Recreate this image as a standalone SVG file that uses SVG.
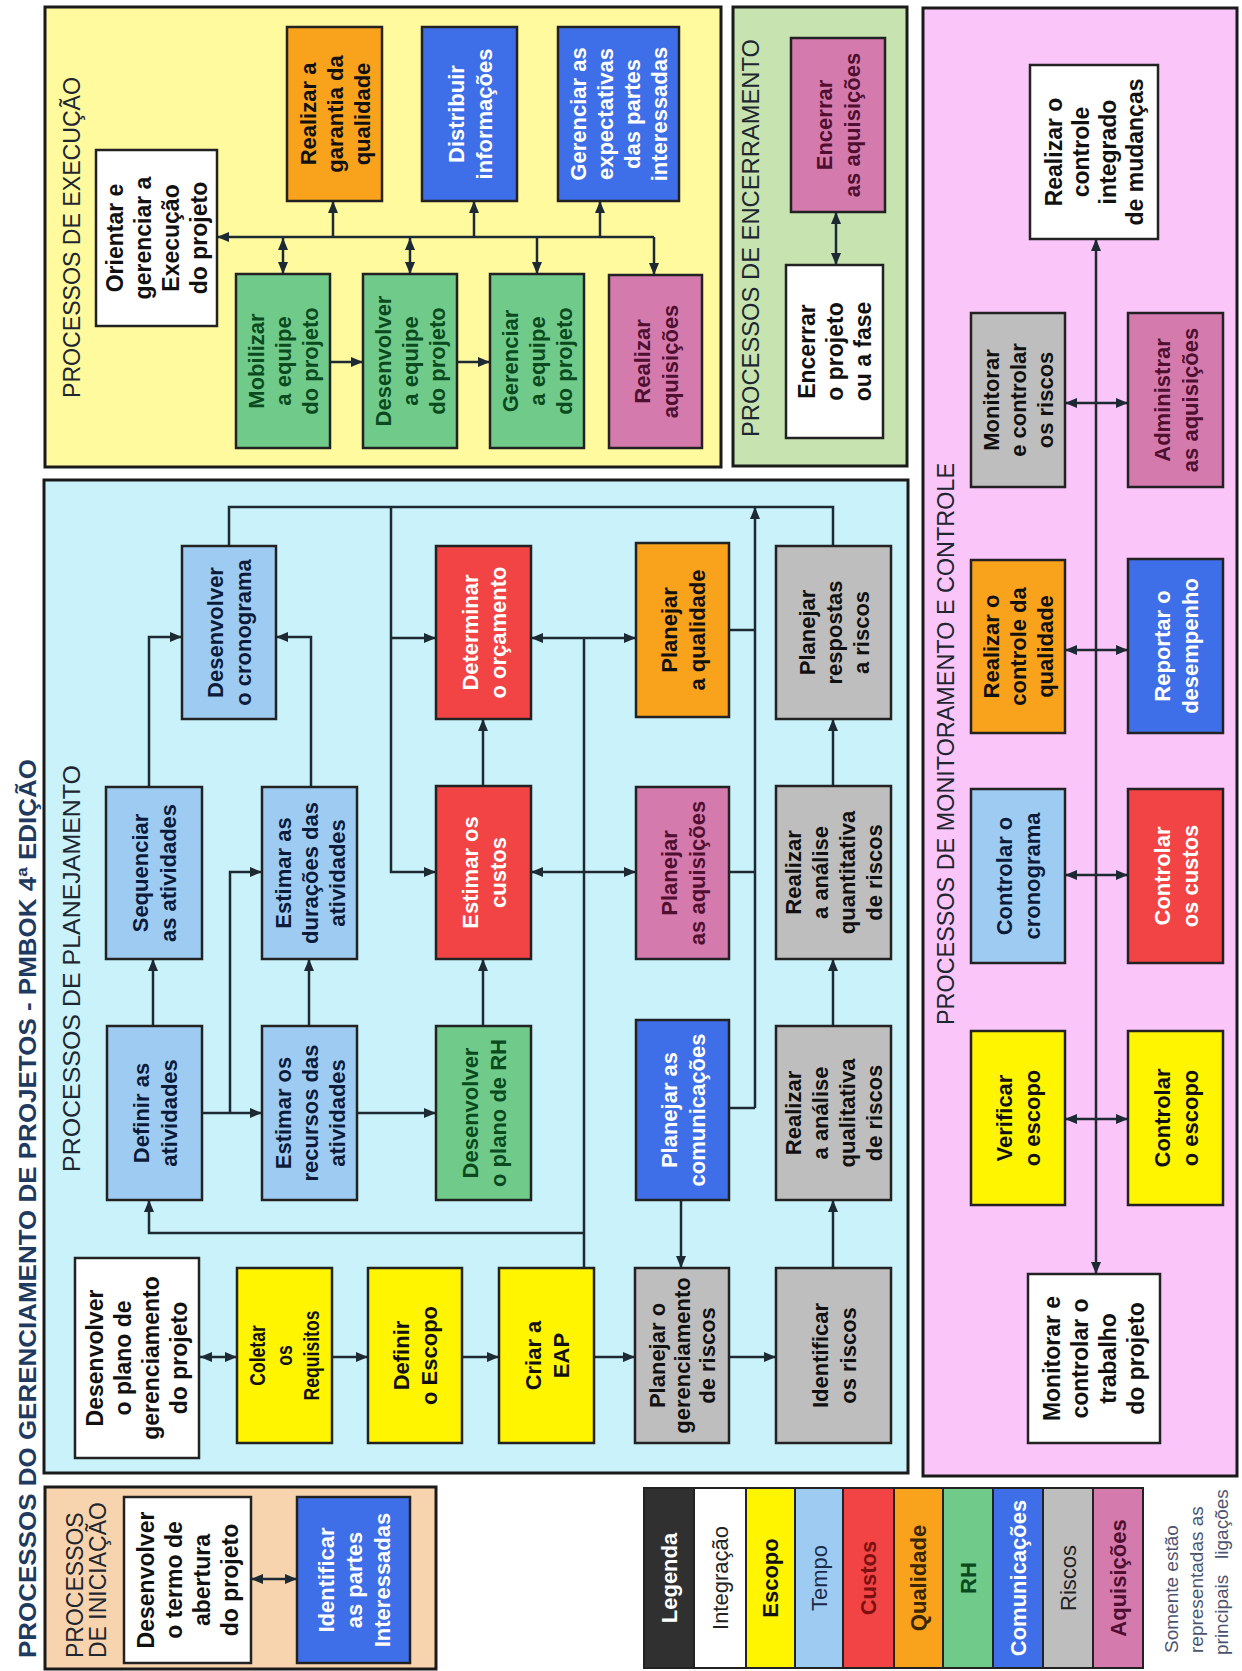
<svg xmlns="http://www.w3.org/2000/svg" width="1242" height="1671" viewBox="0 0 1242 1671">
<style>
.panel{stroke:#1a1a1a;stroke-width:3}
.node{stroke:#222;stroke-width:2.5}
.integ{fill:#ffffff}.esc{fill:#fff500}.tem{fill:#9ecbf2}.cus{fill:#f24444}.qua{fill:#f9a21b}.rh{fill:#70cb8a}.com{fill:#3f6fe8}.ris{fill:#bebebe}.aqu{fill:#d47aac}
text{font-family:"Liberation Sans",Arial,Helvetica,sans-serif;dominant-baseline:central}
.t{font-weight:bold;font-size:22px;text-anchor:middle}
.tw{font-weight:bold;font-size:23px;text-anchor:middle;fill:#111}
.dk{fill:#111}.wt{fill:#ffffff}.nv{fill:#0d1b3a}.gr{fill:#0b4a1e}.mr{fill:#4f0f30}
.title{font-size:23px;fill:#1e2630}
.conn path{fill:none;stroke:#1d2a33;stroke-width:2.5}
</style>
<defs>
<marker id="ae" viewBox="0 0 12 10" refX="12" refY="5" markerWidth="12" markerHeight="10" markerUnits="userSpaceOnUse" orient="auto"><path d="M0,0 L12,5 L0,10 z" fill="#1d2a33"/></marker>
<marker id="as" viewBox="0 0 12 10" refX="12" refY="5" markerWidth="12" markerHeight="10" markerUnits="userSpaceOnUse" orient="auto-start-reverse"><path d="M0,0 L12,5 L0,10 z" fill="#1d2a33"/></marker>
</defs>
<rect width="1242" height="1671" fill="#ffffff"/>

<text id="main-title" font-weight="bold" font-size="24" fill="#1f3a60" textLength="899" lengthAdjust="spacingAndGlyphs" transform="translate(27,1658) rotate(-90)">PROCESSOS DO GERENCIAMENTO DE PROJETOS - PMBOK 4ª EDIÇÃO</text>

<!-- Panels -->
<g id="panel-execucao">
<rect class="panel" x="45" y="7" width="676" height="460" fill="#fffa9e"/>
<text class="title" textLength="321" lengthAdjust="spacingAndGlyphs" transform="translate(72,398) rotate(-90)">PROCESSOS DE EXECUÇÃO</text>
</g>
<g id="panel-encerramento">
<rect class="panel" x="733" y="7" width="174" height="459" fill="#c6e3b0"/>
<text class="title" textLength="398" lengthAdjust="spacingAndGlyphs" transform="translate(751,437) rotate(-90)">PROCESSOS DE ENCERRAMENTO</text>
</g>
<g id="panel-monitoramento">
<rect class="panel" x="923" y="8" width="314" height="1468" fill="#fac5f8"/>
<text class="title" textLength="562" lengthAdjust="spacingAndGlyphs" transform="translate(946,1025) rotate(-90)">PROCESSOS DE MONITORAMENTO E CONTROLE</text>
</g>
<g id="panel-planejamento">
<rect class="panel" x="44" y="480" width="864" height="993" fill="#c9f2fa"/>
<text class="title" textLength="407" lengthAdjust="spacingAndGlyphs" transform="translate(72,1172) rotate(-90)">PROCESSOS DE PLANEJAMENTO</text>
</g>
<g id="panel-iniciacao">
<rect class="panel" x="45" y="1487" width="391" height="182" fill="#f8d4ae"/>
<text class="title" transform="translate(75,1658) rotate(-90)">PROCESSOS</text>
<text class="title" transform="translate(98,1658) rotate(-90)">DE INICIAÇÃO</text>
</g>

<!-- Connectors -->
<g id="connectors" class="conn">
<path d="M654 237 H217" marker-end="url(#ae)"/>
<path d="M654 237 V275" marker-end="url(#ae)"/>
<path d="M537 237 V274" marker-end="url(#ae)"/>
<path d="M333 237 V201" marker-end="url(#ae)"/>
<path d="M474 237 V201" marker-end="url(#ae)"/>
<path d="M600 237 V201" marker-end="url(#ae)"/>
<path d="M283 238 V274" marker-start="url(#as)" marker-end="url(#ae)"/>
<path d="M410 238 V274" marker-start="url(#as)" marker-end="url(#ae)"/>
<path d="M330 362 H363" marker-end="url(#ae)"/>
<path d="M457 362 H490" marker-end="url(#ae)"/>
<path d="M836 212 V265" marker-start="url(#as)" marker-end="url(#ae)"/>
<path d="M1096 1274 V239" marker-start="url(#as)" marker-end="url(#ae)"/>
<path d="M1065 403 H1128" marker-start="url(#as)" marker-end="url(#ae)"/>
<path d="M1065 650 H1128" marker-start="url(#as)" marker-end="url(#ae)"/>
<path d="M1065 875 H1128" marker-start="url(#as)" marker-end="url(#ae)"/>
<path d="M1065 1119 H1128" marker-start="url(#as)" marker-end="url(#ae)"/>
<path d="M229 546 V507 H833 V546"/>
<path d="M391 507 V872 H436" marker-end="url(#ae)"/>
<path d="M391 638 H436" marker-end="url(#ae)"/>
<path d="M755 1108 V507" marker-end="url(#ae)"/>
<path d="M729 630 H755"/>
<path d="M729 872 H755"/>
<path d="M729 1108 H755"/>
<path d="M531 638 H636" marker-start="url(#as)" marker-end="url(#ae)"/>
<path d="M531 872 H636" marker-start="url(#as)" marker-end="url(#ae)"/>
<path d="M584 638 V1268"/>
<path d="M584 1233 H149 V1200" marker-end="url(#ae)"/>
<path d="M681 1200 V1268" marker-end="url(#ae)"/>
<path d="M149 787 V637 H182" marker-end="url(#ae)"/>
<path d="M311 787 V637 H276" marker-end="url(#ae)"/>
<path d="M153 1026 V959" marker-end="url(#ae)"/>
<path d="M202 1113 H262" marker-end="url(#ae)"/>
<path d="M230 1113 V872 H262" marker-end="url(#ae)"/>
<path d="M309 1026 V959" marker-end="url(#ae)"/>
<path d="M357 1113 H436" marker-end="url(#ae)"/>
<path d="M483 1026 V959" marker-end="url(#ae)"/>
<path d="M483 786 V719" marker-end="url(#ae)"/>
<path d="M833 1268 V1200" marker-end="url(#ae)"/>
<path d="M833 1026 V959" marker-end="url(#ae)"/>
<path d="M833 786 V719" marker-end="url(#ae)"/>
<path d="M200 1357 H237" marker-start="url(#as)" marker-end="url(#ae)"/>
<path d="M332 1357 H368" marker-end="url(#ae)"/>
<path d="M462 1357 H499" marker-end="url(#ae)"/>
<path d="M594 1357 H635" marker-end="url(#ae)"/>
<path d="M729 1357 H776" marker-end="url(#ae)"/>
<path d="M251 1579 H297" marker-start="url(#as)" marker-end="url(#ae)"/>
</g>

<!-- Execution nodes -->
<g id="exe-orientar"><rect class="node integ" x="96" y="150" width="121" height="176"/>
<text class="tw" transform="translate(156.5,238) rotate(-90)"><tspan x="0" y="-42">Orientar e</tspan><tspan x="0" y="-14">gerenciar a</tspan><tspan x="0" y="14">Execução</tspan><tspan x="0" y="42">do projeto</tspan></text></g>
<g id="exe-garantia"><rect class="node qua" x="287" y="27" width="95" height="174"/>
<text class="t dk" transform="translate(334.5,114) rotate(-90)"><tspan x="0" y="-27">Realizar a</tspan><tspan x="0" y="0">garantia da</tspan><tspan x="0" y="27">qualidade</tspan></text></g>
<g id="exe-distribuir"><rect class="node com" x="422" y="27" width="95" height="174"/>
<text class="t wt" transform="translate(469.5,114) rotate(-90)"><tspan x="0" y="-14">Distribuir</tspan><tspan x="0" y="14">informações</tspan></text></g>
<g id="exe-expectativas"><rect class="node com" x="558" y="27" width="121" height="174"/>
<text class="t wt" transform="translate(618.5,114) rotate(-90)"><tspan x="0" y="-40.5">Gerenciar as</tspan><tspan x="0" y="-13.5">expectativas</tspan><tspan x="0" y="13.5">das partes</tspan><tspan x="0" y="40.5">interessadas</tspan></text></g>
<g id="exe-mobilizar"><rect class="node rh" x="236" y="274" width="94" height="174"/>
<text class="t gr" transform="translate(283,361) rotate(-90)"><tspan x="0" y="-27">Mobilizar</tspan><tspan x="0" y="0">a equipe</tspan><tspan x="0" y="27">do projeto</tspan></text></g>
<g id="exe-desenvolver"><rect class="node rh" x="363" y="274" width="94" height="174"/>
<text class="t gr" transform="translate(410,361) rotate(-90)"><tspan x="0" y="-27">Desenvolver</tspan><tspan x="0" y="0">a equipe</tspan><tspan x="0" y="27">do projeto</tspan></text></g>
<g id="exe-gerenciar"><rect class="node rh" x="490" y="274" width="94" height="174"/>
<text class="t gr" transform="translate(537,361) rotate(-90)"><tspan x="0" y="-27">Gerenciar</tspan><tspan x="0" y="0">a equipe</tspan><tspan x="0" y="27">do projeto</tspan></text></g>
<g id="exe-aquisicoes"><rect class="node aqu" x="609" y="275" width="93" height="173"/>
<text class="t mr" transform="translate(655.5,361.5) rotate(-90)"><tspan x="0" y="-14">Realizar</tspan><tspan x="0" y="14">aquisições</tspan></text></g>

<!-- Closing nodes -->
<g id="enc-aquisicoes"><rect class="node aqu" x="791" y="38" width="94" height="174"/>
<text class="t mr" transform="translate(838,125) rotate(-90)"><tspan x="0" y="-14">Encerrar</tspan><tspan x="0" y="14">as aquisições</tspan></text></g>
<g id="enc-projeto"><rect class="node integ" x="786" y="265" width="97" height="173"/>
<text class="tw" transform="translate(834.5,351.5) rotate(-90)"><tspan x="0" y="-28">Encerrar</tspan><tspan x="0" y="0">o projeto</tspan><tspan x="0" y="28">ou a fase</tspan></text></g>

<!-- Monitoring nodes -->
<g id="mon-integrado"><rect class="node integ" x="1030" y="65" width="128" height="174"/>
<text class="tw" transform="translate(1094,152) rotate(-90)"><tspan x="0" y="-40.5">Realizar o</tspan><tspan x="0" y="-13.5">controle</tspan><tspan x="0" y="13.5">integrado</tspan><tspan x="0" y="40.5">de mudanças</tspan></text></g>
<g id="mon-riscos"><rect class="node ris" x="971" y="313" width="94" height="174"/>
<text class="t dk" transform="translate(1018,400) rotate(-90)"><tspan x="0" y="-27">Monitorar</tspan><tspan x="0" y="0">e controlar</tspan><tspan x="0" y="27">os riscos</tspan></text></g>
<g id="mon-aquisicoes"><rect class="node aqu" x="1128" y="313" width="95" height="174"/>
<text class="t mr" transform="translate(1175.5,400) rotate(-90)"><tspan x="0" y="-14">Administrar</tspan><tspan x="0" y="14">as aquisições</tspan></text></g>
<g id="mon-qualidade"><rect class="node qua" x="971" y="560" width="94" height="173"/>
<text class="t dk" transform="translate(1018,646.5) rotate(-90)"><tspan x="0" y="-27">Realizar o</tspan><tspan x="0" y="0">controle da</tspan><tspan x="0" y="27">qualidade</tspan></text></g>
<g id="mon-desempenho"><rect class="node com" x="1128" y="559" width="95" height="174"/>
<text class="t wt" transform="translate(1175.5,646) rotate(-90)"><tspan x="0" y="-14">Reportar o</tspan><tspan x="0" y="14">desempenho</tspan></text></g>
<g id="mon-cronograma"><rect class="node tem" x="971" y="789" width="94" height="174"/>
<text class="t nv" transform="translate(1018,876) rotate(-90)"><tspan x="0" y="-14">Controlar o</tspan><tspan x="0" y="14">cronograma</tspan></text></g>
<g id="mon-custos"><rect class="node cus" x="1128" y="789" width="95" height="174"/>
<text class="t wt" transform="translate(1175.5,876) rotate(-90)"><tspan x="0" y="-14">Controlar</tspan><tspan x="0" y="14">os custos</tspan></text></g>
<g id="mon-verificar"><rect class="node esc" x="971" y="1031" width="94" height="174"/>
<text class="t dk" transform="translate(1018,1118) rotate(-90)"><tspan x="0" y="-14">Verificar</tspan><tspan x="0" y="14">o escopo</tspan></text></g>
<g id="mon-controlar-escopo"><rect class="node esc" x="1128" y="1031" width="95" height="174"/>
<text class="t dk" transform="translate(1175.5,1118) rotate(-90)"><tspan x="0" y="-14">Controlar</tspan><tspan x="0" y="14">o escopo</tspan></text></g>
<g id="mon-trabalho"><rect class="node integ" x="1028" y="1274" width="132" height="169"/>
<text class="tw" transform="translate(1094,1358.5) rotate(-90)"><tspan x="0" y="-42">Monitorar e</tspan><tspan x="0" y="-14">controlar o</tspan><tspan x="0" y="14">trabalho</tspan><tspan x="0" y="42">do projeto</tspan></text></g>

<!-- Planning nodes -->
<g id="pla-cronograma"><rect class="node tem" x="182" y="546" width="94" height="173"/>
<text class="t nv" transform="translate(229,632.5) rotate(-90)"><tspan x="0" y="-14">Desenvolver</tspan><tspan x="0" y="14">o cronograma</tspan></text></g>
<g id="pla-orcamento"><rect class="node cus" x="436" y="546" width="95" height="173"/>
<text class="t wt" transform="translate(483.5,632.5) rotate(-90)"><tspan x="0" y="-14">Determinar</tspan><tspan x="0" y="14">o orçamento</tspan></text></g>
<g id="pla-qualidade"><rect class="node qua" x="636" y="543" width="93" height="174"/>
<text class="t dk" transform="translate(682.5,630) rotate(-90)"><tspan x="0" y="-14">Planejar</tspan><tspan x="0" y="14">a qualidade</tspan></text></g>
<g id="pla-respostas"><rect class="node ris" x="776" y="546" width="115" height="173"/>
<text class="t dk" transform="translate(833.5,632.5) rotate(-90)"><tspan x="0" y="-27">Planejar</tspan><tspan x="0" y="0">respostas</tspan><tspan x="0" y="27">a riscos</tspan></text></g>
<g id="pla-sequenciar"><rect class="node tem" x="106" y="787" width="96" height="172"/>
<text class="t nv" transform="translate(154,873) rotate(-90)"><tspan x="0" y="-14">Sequenciar</tspan><tspan x="0" y="14">as atividades</tspan></text></g>
<g id="pla-duracoes"><rect class="node tem" x="262" y="787" width="95" height="172"/>
<text class="t nv" transform="translate(309.5,873) rotate(-90)"><tspan x="0" y="-27">Estimar as</tspan><tspan x="0" y="0">durações das</tspan><tspan x="0" y="27">atividades</tspan></text></g>
<g id="pla-custos"><rect class="node cus" x="436" y="786" width="95" height="173"/>
<text class="t wt" transform="translate(483.5,872.5) rotate(-90)"><tspan x="0" y="-14">Estimar os</tspan><tspan x="0" y="14">custos</tspan></text></g>
<g id="pla-aquisicoes"><rect class="node aqu" x="636" y="787" width="93" height="172"/>
<text class="t mr" transform="translate(682.5,873) rotate(-90)"><tspan x="0" y="-14">Planejar</tspan><tspan x="0" y="14">as aquisições</tspan></text></g>
<g id="pla-quantitativa"><rect class="node ris" x="776" y="786" width="115" height="173"/>
<text class="t dk" transform="translate(833.5,872.5) rotate(-90)"><tspan x="0" y="-40.5">Realizar</tspan><tspan x="0" y="-13.5">a análise</tspan><tspan x="0" y="13.5">quantitativa</tspan><tspan x="0" y="40.5">de riscos</tspan></text></g>
<g id="pla-definir-atividades"><rect class="node tem" x="107" y="1026" width="95" height="174"/>
<text class="t nv" transform="translate(154.5,1113) rotate(-90)"><tspan x="0" y="-14">Definir as</tspan><tspan x="0" y="14">atividades</tspan></text></g>
<g id="pla-recursos"><rect class="node tem" x="262" y="1026" width="95" height="174"/>
<text class="t nv" transform="translate(309.5,1113) rotate(-90)"><tspan x="0" y="-27">Estimar os</tspan><tspan x="0" y="0">recursos das</tspan><tspan x="0" y="27">atividades</tspan></text></g>
<g id="pla-rh"><rect class="node rh" x="436" y="1026" width="95" height="174"/>
<text class="t gr" transform="translate(483.5,1113) rotate(-90)"><tspan x="0" y="-14">Desenvolver</tspan><tspan x="0" y="14">o plano de RH</tspan></text></g>
<g id="pla-comunicacoes"><rect class="node com" x="636" y="1020" width="93" height="180"/>
<text class="t wt" transform="translate(682.5,1110) rotate(-90)"><tspan x="0" y="-14">Planejar as</tspan><tspan x="0" y="14">comunicações</tspan></text></g>
<g id="pla-qualitativa"><rect class="node ris" x="776" y="1026" width="115" height="174"/>
<text class="t dk" transform="translate(833.5,1113) rotate(-90)"><tspan x="0" y="-40.5">Realizar</tspan><tspan x="0" y="-13.5">a análise</tspan><tspan x="0" y="13.5">qualitativa</tspan><tspan x="0" y="40.5">de riscos</tspan></text></g>
<g id="pla-plano"><rect class="node integ" x="75" y="1258" width="124" height="200"/>
<text class="tw" transform="translate(137,1358) rotate(-90)"><tspan x="0" y="-42">Desenvolver</tspan><tspan x="0" y="-14">o plano de</tspan><tspan x="0" y="14">gerenciamento</tspan><tspan x="0" y="42">do projeto</tspan></text></g>
<g id="pla-requisitos"><rect class="node esc" x="237" y="1268" width="95" height="175"/>
<text class="t dk" font-size="23" transform="translate(284.5,1355.5) rotate(-90) scale(0.8,1)"><tspan x="0" y="-27">Coletar</tspan><tspan x="0" y="0">os</tspan><tspan x="0" y="27">Requisitos</tspan></text></g>
<g id="pla-escopo"><rect class="node esc" x="368" y="1268" width="94" height="175"/>
<text class="t dk" transform="translate(415,1355.5) rotate(-90)"><tspan x="0" y="-14">Definir</tspan><tspan x="0" y="14">o Escopo</tspan></text></g>
<g id="pla-eap"><rect class="node esc" x="499" y="1268" width="95" height="175"/>
<text class="t dk" transform="translate(546.5,1355.5) rotate(-90)"><tspan x="0" y="-14">Criar a</tspan><tspan x="0" y="14">EAP</tspan></text></g>
<g id="pla-ger-riscos"><rect class="node ris" x="635" y="1268" width="94" height="175"/>
<text class="t dk" transform="translate(682,1355.5) rotate(-90)"><tspan x="0" y="-25">Planejar o</tspan><tspan x="0" y="0">gerenciamento</tspan><tspan x="0" y="25">de riscos</tspan></text></g>
<g id="pla-identificar"><rect class="node ris" x="776" y="1268" width="115" height="175"/>
<text class="t dk" transform="translate(833.5,1355.5) rotate(-90)"><tspan x="0" y="-14">Identificar</tspan><tspan x="0" y="14">os riscos</tspan></text></g>

<!-- Initiation nodes -->
<g id="ini-termo"><rect class="node integ" x="124" y="1497" width="127" height="166"/>
<text class="tw" transform="translate(187.5,1580) rotate(-90)"><tspan x="0" y="-42">Desenvolver</tspan><tspan x="0" y="-14">o termo de</tspan><tspan x="0" y="14">abertura</tspan><tspan x="0" y="42">do projeto</tspan></text></g>
<g id="ini-partes"><rect class="node com" x="297" y="1497" width="113" height="166"/>
<text class="t wt" transform="translate(353.5,1580) rotate(-90)"><tspan x="0" y="-28">Identificar</tspan><tspan x="0" y="0">as partes</tspan><tspan x="0" y="28">Interessadas</tspan></text></g>

<!-- Legend -->
<g id="legend">
<rect x="644" y="1488" width="50" height="180" fill="#303030" stroke="#222" stroke-width="2"/>
<rect x="694" y="1488" width="52" height="180" class="integ" stroke="#222" stroke-width="2"/>
<rect x="746" y="1488" width="49" height="180" class="esc" stroke="#222" stroke-width="2"/>
<rect x="795" y="1488" width="48" height="180" class="tem" stroke="#222" stroke-width="2"/>
<rect x="843" y="1488" width="51" height="180" class="cus" stroke="#222" stroke-width="2"/>
<rect x="894" y="1488" width="49" height="180" class="qua" stroke="#222" stroke-width="2"/>
<rect x="943" y="1488" width="50" height="180" class="rh" stroke="#222" stroke-width="2"/>
<rect x="993" y="1488" width="50" height="180" class="com" stroke="#222" stroke-width="2"/>
<rect x="1043" y="1488" width="50" height="180" class="ris" stroke="#222" stroke-width="2"/>
<rect x="1093" y="1488" width="50" height="180" class="aqu" stroke="#222" stroke-width="2"/>
<text class="t wt" transform="translate(669,1578) rotate(-90)">Legenda</text>
<text font-size="22" text-anchor="middle" fill="#222" transform="translate(720,1578) rotate(-90)">Integração</text>
<text class="t dk" transform="translate(770.5,1578) rotate(-90)">Escopo</text>
<text font-size="22" text-anchor="middle" fill="#1a2a4a" transform="translate(819,1578) rotate(-90)">Tempo</text>
<text class="t" fill="#7a1010" transform="translate(868.5,1578) rotate(-90)">Custos</text>
<text class="t" fill="#3a2600" transform="translate(918.5,1578) rotate(-90)">Qualidade</text>
<text class="t gr" transform="translate(968,1578) rotate(-90)">RH</text>
<text class="t wt" transform="translate(1018,1578) rotate(-90)">Comunicações</text>
<text font-size="22" text-anchor="middle" fill="#222" transform="translate(1068,1578) rotate(-90)">Riscos</text>
<text class="t mr" transform="translate(1118,1578) rotate(-90)">Aquisições</text>
</g>

<g id="note" font-size="19" fill="#4a5470">
<text transform="translate(1171,1653) rotate(-90)">Somente estão</text>
<text transform="translate(1196,1653) rotate(-90)">representadas as</text>
<text xml:space="preserve" transform="translate(1221,1655) rotate(-90)">principais   ligações</text>
</g>
</svg>
